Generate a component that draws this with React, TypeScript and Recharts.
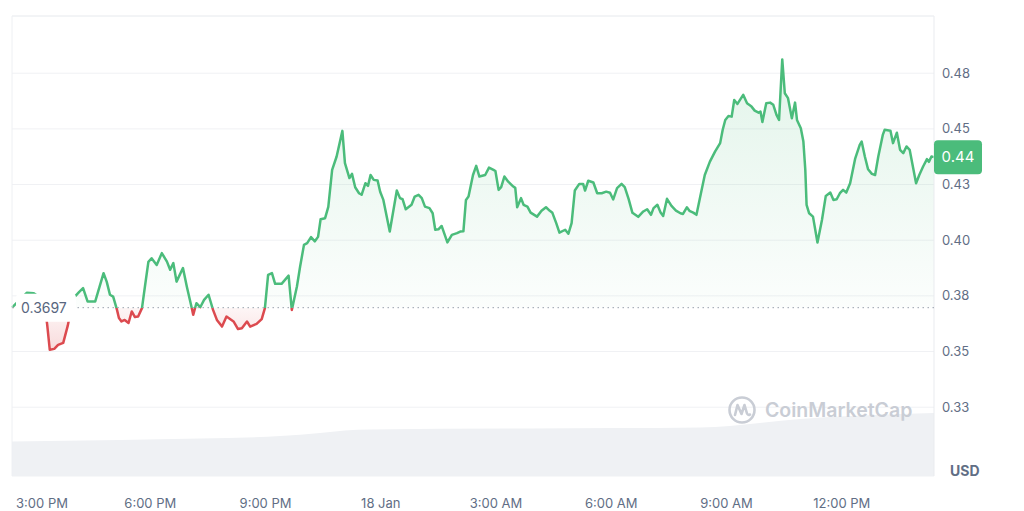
import { ComposedChart, Area, XAxis, YAxis, CartesianGrid, ReferenceLine } from "recharts";

// minutes since the start of the 24h window (≈2:24 PM)
const minutes = [
  0, 12, 23, 34, 44, 52, 55, 59, 66, 72,
  80, 87, 92, 96, 105, 111, 118, 130, 143, 148,
  153, 158, 164, 167, 171, 176, 182, 187, 192, 197,
  203, 208, 213, 218, 226, 234, 242, 247, 252, 257,
  267, 273, 281, 283, 288, 294, 300, 307, 314, 320,
  328, 335, 346, 353, 359, 367, 372, 382, 390, 395,
  400, 406, 411, 421, 432, 437, 445, 450, 456, 461,
  467, 473, 478, 482, 489, 494, 500, 507, 516, 520,
  527, 531, 536, 542, 546, 552, 556, 560, 565, 571,
  575, 580, 590, 601, 606, 610, 615, 624, 629, 635,
  640, 645, 652, 657, 661, 666, 671, 680, 687, 695,
  700, 705, 709, 713, 720, 725, 730, 739, 745, 752,
  755, 760, 764, 769, 775, 783, 786, 789, 795, 799,
  805, 810, 820, 827, 834, 840, 844, 850, 855, 864,
  869, 874, 879, 886, 892, 895, 900, 908, 914, 921,
  928, 934, 939, 945, 952, 957, 963, 969, 978, 986,
  992, 998, 1002, 1008, 1013, 1017, 1023, 1030, 1037, 1044,
  1048, 1054, 1058, 1064, 1069, 1076, 1082, 1090, 1098, 1106,
  1110, 1114, 1119, 1124, 1128, 1133, 1137, 1142, 1148, 1155,
  1160, 1166, 1169, 1172, 1178, 1184, 1189, 1194, 1198, 1203,
  1207, 1212, 1218, 1223, 1226, 1232, 1236, 1239, 1241, 1245,
  1251, 1258, 1265, 1271, 1278, 1283, 1288, 1293, 1298, 1303,
  1309, 1317, 1324, 1327, 1332, 1337, 1343, 1348, 1353, 1360,
  1363, 1372, 1376, 1382, 1387, 1392, 1397, 1402, 1407, 1412,
  1417, 1423, 1429, 1432, 1436, 1440,
];

const prices = [
  0.3697, 0.3732, 0.3764, 0.3762, 0.3741, 0.3687, 0.362, 0.3508, 0.3512, 0.353,
  0.3539, 0.3615, 0.3687, 0.374, 0.3768, 0.3785, 0.3725, 0.3725, 0.3852, 0.3813,
  0.3755, 0.3747, 0.3687, 0.3651, 0.3635, 0.3642, 0.3628, 0.368, 0.3655, 0.3657,
  0.3695, 0.38, 0.3903, 0.3919, 0.3889, 0.3942, 0.3904, 0.3867, 0.3897, 0.3814,
  0.3875, 0.3792, 0.3692, 0.3665, 0.3717, 0.3699, 0.3732, 0.3755, 0.3687, 0.3642,
  0.3612, 0.3657, 0.3635, 0.3601, 0.3605, 0.3635, 0.3612, 0.3624, 0.3646, 0.3695,
  0.3844, 0.3852, 0.3804, 0.3804, 0.3841, 0.3687, 0.3792, 0.3882, 0.3979, 0.3987,
  0.4014, 0.3995, 0.4015, 0.4094, 0.4099, 0.415, 0.4316, 0.4376, 0.4491, 0.4346,
  0.4279, 0.4298, 0.4238, 0.4211, 0.4204, 0.4256, 0.4244, 0.4293, 0.4271, 0.4268,
  0.4218, 0.4181, 0.4039, 0.4223, 0.4189, 0.4184, 0.4139, 0.4159, 0.4196, 0.4204,
  0.4189, 0.4151, 0.4144, 0.4121, 0.4047, 0.4049, 0.4064, 0.399, 0.4024, 0.4032,
  0.4039, 0.404, 0.4181, 0.4196, 0.4293, 0.4334, 0.4286, 0.4293, 0.4326, 0.4316,
  0.4311, 0.4226, 0.4238, 0.4286, 0.4263, 0.4241, 0.4235, 0.4148, 0.4189, 0.4159,
  0.4151, 0.4124, 0.4106, 0.4132, 0.4148, 0.4132, 0.4123, 0.4077, 0.4034, 0.4047,
  0.4029, 0.4077, 0.4223, 0.4253, 0.4253, 0.4223, 0.4267, 0.4259, 0.4211, 0.4211,
  0.4218, 0.4213, 0.4183, 0.4234, 0.4253, 0.4238, 0.4186, 0.4123, 0.4105, 0.4129,
  0.4139, 0.4114, 0.4144, 0.4159, 0.4124, 0.4109, 0.4186, 0.4154, 0.4133, 0.4121,
  0.4118, 0.4148, 0.4132, 0.4124, 0.4114, 0.4211, 0.4293, 0.4353, 0.4398, 0.4436,
  0.4496, 0.454, 0.4558, 0.4555, 0.463, 0.4612, 0.463, 0.4653, 0.4615, 0.46,
  0.4582, 0.4573, 0.4578, 0.4531, 0.4615, 0.4618, 0.4608, 0.4563, 0.454, 0.4812,
  0.466, 0.4638, 0.4548, 0.4618, 0.454, 0.4503, 0.4443, 0.4316, 0.4159, 0.4121,
  0.4106, 0.399, 0.4091, 0.4199, 0.4214, 0.4181, 0.4184, 0.4211, 0.4226, 0.4214,
  0.4256, 0.4368, 0.4428, 0.4443, 0.4376, 0.4319, 0.4298, 0.4293, 0.4376, 0.4473,
  0.4496, 0.4492, 0.4436, 0.4483, 0.4406, 0.4391, 0.4421, 0.4406, 0.4331, 0.4256,
  0.4293, 0.4331, 0.4364, 0.4352, 0.4376, 0.4373,
];

// volume band at the bottom (arbitrary units)
const volMinutes = [0, 169, 294, 419, 481, 520, 559, 809, 1075, 1121, 1168, 1231, 1309, 1387, 1440];
const volumes = [34.5, 36, 37.5, 40, 43, 45.5, 46.5, 47.5, 48.5, 50, 53, 57, 60, 62, 63];

const openPrice = 0.3697;

const xTicks = [36, 216, 396, 576, 756, 936, 1116, 1296];
const xTickLabels = ["3:00 PM", "6:00 PM", "9:00 PM", "18 Jan", "3:00 AM", "6:00 AM", "9:00 AM", "12:00 PM"];
const yTicks = [0.325, 0.35, 0.375, 0.4, 0.425, 0.45, 0.475];
const yTickLabels = ["0.33", "0.35", "0.38", "0.40", "0.43", "0.45", "0.48"];

const priceData = minutes.map((t, i) => ({ t, p: prices[i] }));
const volData = volMinutes.map((t, i) => ({ t, v: volumes[i] }));

const lastPrice = prices[prices.length - 1];
const maxP = Math.max(...prices);
const minP = Math.min(...prices);
const split = (maxP - openPrice) / (maxP - minP);

const Y_DOMAIN = [0.2941, 0.5007];
const GREEN = "#4bbc7b";
const RED = "#dc4a4f";
const GREY = "#616e85";
const FRAME = "#eef0f3";
const FONT = "Inter, 'Noto Sans', sans-serif";

function XTick({ x, y, payload }: any) {
  const label = xTickLabels[xTicks.indexOf(payload.value)];
  return (
    <text x={Math.max(x, 42)} y={y + 24} textAnchor="middle" fill={GREY} fontSize={13} fontFamily={FONT}>
      {label}
    </text>
  );
}

function YTick({ x, y, payload }: any) {
  const label = yTickLabels[yTicks.indexOf(payload.value)];
  return (
    <text x={x} y={y} dy="0.35em" textAnchor="start" fill={GREY} fontSize={13} fontFamily={FONT}>
      {label}
    </text>
  );
}

function OpenLabel({ viewBox }: any) {
  const { x, y } = viewBox;
  return (
    <g>
      <rect x={x + 4} y={y - 14} width={60} height={28} rx={4} fill="#ffffff" />
      <text x={x + 9} y={y} dy="0.35em" fill="#58667e" fontSize={14} fontFamily={FONT}>
        {openPrice.toFixed(4)}
      </text>
    </g>
  );
}

function LastBadge({ viewBox }: any) {
  const { x, y, width } = viewBox;
  const bx = x + width;
  return (
    <g>
      <rect x={bx} y={y - 17} width={48} height={34} rx={4} fill={GREEN} />
      <text x={bx + 24} y={y} dy="0.35em" textAnchor="middle" fill="#ffffff" fontSize={15} fontFamily={FONT}>
        {lastPrice.toFixed(2)}
      </text>
    </g>
  );
}

function UsdLabel({ viewBox }: any) {
  const { x, y, height } = viewBox;
  return (
    <text x={x + 16} y={y + height - 5} dy="0.35em" fill={GREY} fontSize={14} fontWeight={700} fontFamily={FONT}>
      USD
    </text>
  );
}

function Watermark() {
  return (
    <div
      style={{
        position: "absolute",
        left: 727,
        top: 395,
        display: "flex",
        alignItems: "center",
        gap: 8,
        color: "#c9cdd5",
        fontFamily: FONT,
        fontSize: 19.5,
        fontWeight: 600,
        pointerEvents: "none",
      }}
    >
      <svg width={30} height={30} viewBox="0 0 30 30">
        <circle cx={15} cy={15} r={12.5} fill="none" stroke="#c9cdd5" strokeWidth={2.6} />
        <path d="M8 20 L10.5 10 L14.5 19 L17.5 10 L20 18.5 Q21 20.5 23 19.5" fill="none" stroke="#c9cdd5" strokeWidth={2.6} strokeLinejoin="round" strokeLinecap="round" />
      </svg>
      <span>CoinMarketCap</span>
    </div>
  );
}

export default function App() {
  return (
    <div style={{ position: "absolute", left: 0, top: 0, width: 1024, height: 511, background: "#ffffff" }}>
      <ComposedChart width={1024} height={511} margin={{ top: 16, right: 0, bottom: 0, left: 12 }}>
        <defs>
          <linearGradient id="priceStroke" x1="0" y1="0" x2="0" y2="1">
            <stop offset={split} stopColor={GREEN} />
            <stop offset={split} stopColor={RED} />
          </linearGradient>
          <linearGradient id="priceFill" x1="0" y1="0" x2="0" y2="1">
            <stop offset={0} stopColor={GREEN} stopOpacity={0.16} />
            <stop offset={split} stopColor={GREEN} stopOpacity={0.02} />
            <stop offset={split} stopColor={RED} stopOpacity={0.05} />
            <stop offset={1} stopColor={RED} stopOpacity={0.2} />
          </linearGradient>
        </defs>
        <CartesianGrid vertical={false} stroke="#f0f1f4" />
        <XAxis
          type="number"
          dataKey="t"
          domain={[0, 1440]}
          ticks={xTicks}
          height={35}
          axisLine={false}
          tickLine={false}
          tick={<XTick />}
          interval={0}
        />
        <YAxis
          orientation="right"
          domain={Y_DOMAIN}
          ticks={yTicks}
          width={90}
          axisLine={false}
          tickLine={false}
          tickSize={0}
          tickMargin={8}
          tick={<YTick />}
          interval={0}
          allowDataOverflow
          label={<UsdLabel />}
        />
        <YAxis yAxisId="vol" hide domain={[0, 460]} />
        <Area
          yAxisId="vol"
          data={volData}
          dataKey="v"
          type="monotone"
          stroke="none"
          fill="#eff1f4"
          fillOpacity={1}
          isAnimationActive={false}
          dot={false}
          activeDot={false}
        />
        <ReferenceLine x={0} stroke={FRAME} />
        <ReferenceLine x={1440} stroke="#e9ebef" />
        <ReferenceLine y={Y_DOMAIN[1]} stroke={FRAME} />
        <Area
          data={priceData}
          dataKey="p"
          type="linear"
          baseValue={openPrice}
          stroke="url(#priceStroke)"
          strokeWidth={2.5}
          strokeLinejoin="round"
          fill="url(#priceFill)"
          fillOpacity={1}
          isAnimationActive={false}
          dot={false}
          activeDot={false}
        />
        <ReferenceLine y={openPrice} stroke="#9aa1ad" strokeDasharray="1.5 3.5" label={<OpenLabel />} />
        <ReferenceLine y={lastPrice} stroke="none" label={<LastBadge />} />
      </ComposedChart>
      <Watermark />
    </div>
  );
}
